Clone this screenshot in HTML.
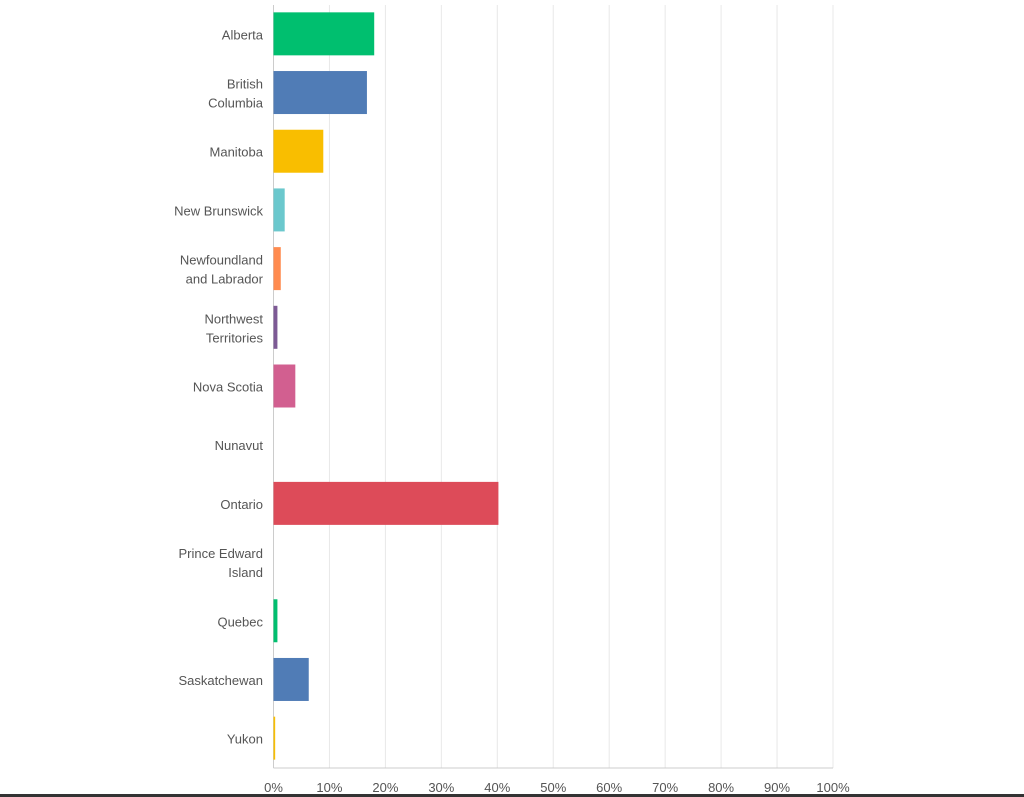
<!DOCTYPE html>
<html><head><meta charset="utf-8"><style>
html,body{margin:0;padding:0;background:#fff;width:1024px;height:797px;overflow:hidden}
svg{display:block;font-family:"Liberation Sans",sans-serif}
</style></head><body>
<svg id="chart" width="1024" height="797" xmlns="http://www.w3.org/2000/svg">
<rect x="0" y="794" width="1024" height="3" fill="#333"/>
</svg>
<script>
const categories=[["Alberta"],["British","Columbia"],["Manitoba"],["New Brunswick"],["Newfoundland","and Labrador"],["Northwest","Territories"],["Nova Scotia"],["Nunavut"],["Ontario"],["Prince Edward","Island"],["Quebec"],["Saskatchewan"],["Yukon"]];
const values=[18.0,16.7,8.9,2.0,1.3,0.7,3.9,0,40.2,0,0.7,6.3,0.3];
const colors=["#00bf6f","#507cb6","#f9be00","#6bc8cd","#ff8b4f","#7d5a95","#d25f90","#dbdb00","#dd4b59","#7fb3d5","#00bf6f","#507cb6","#f9be00"];
const ticks=[0,10,20,30,40,50,60,70,80,90,100];
const NS="http://www.w3.org/2000/svg";
const svgEl=document.getElementById('chart');
const x0=273.5,x1=833,plotTop=5,plotBottom=768;
const xs=v=>x0+(x1-x0)*v/100;
const rowH=(plotBottom-plotTop)/categories.length;
const ys=i=>plotTop+rowH*(i+0.5);
function mk(t,a){const e=document.createElementNS(NS,t);for(const k in a)e.setAttribute(k,a[k]);svgEl.appendChild(e);return e;}
ticks.forEach((t,i)=>{
  if(t>0){const g=mk('line',{x1:xs(t),x2:xs(t),y1:plotTop,y2:plotBottom,stroke:'#e8e8e8','stroke-width':1});
  
  }
  const l=mk('text',{x:xs(t),y:792,'text-anchor':'middle','font-size':13,fill:'#555'});
  l.textContent=t+'%';
  
  
});
const ax=mk('line',{x1:x0,x2:x1,y1:plotBottom,y2:plotBottom,stroke:'#ccc','stroke-width':1});


const ay=mk('line',{x1:x0,x2:x0,y1:plotTop,y2:plotBottom,stroke:'#ccc','stroke-width':1});


categories.forEach((c,i)=>{
  const cy=ys(i);
  if(values[i]>0){
    const b=mk('rect',{x:x0,y:cy-22,width:Math.max(xs(values[i])-x0,1.5),height:43,fill:colors[i]});
    
    
  }
  const t=mk('text',{x:263,'text-anchor':'end','font-size':13,fill:'#555'});
  
  
  c.forEach((line,j)=>{
    const s=document.createElementNS(NS,'tspan');
    s.setAttribute('x',263);
    s.setAttribute('y',cy+5+(j-(c.length-1)/2)*19);
    s.textContent=line;t.appendChild(s);
  });
});
</script>
</body></html>
